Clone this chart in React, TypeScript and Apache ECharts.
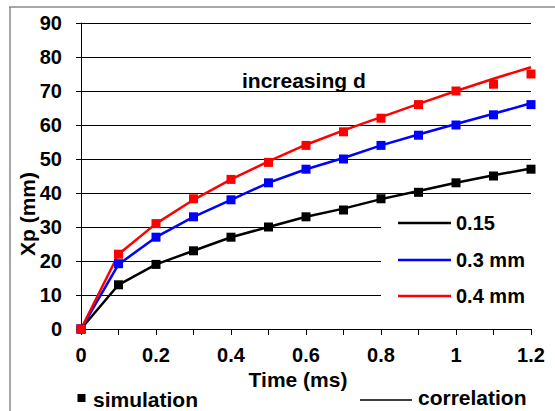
import React, { useEffect, useRef } from "react";
import * as echarts from "echarts";

const times = [0, 0.1, 0.2, 0.3, 0.4, 0.5, 0.6, 0.7, 0.8, 0.9, 1.0, 1.1, 1.2];
const seriesNames = ["0.15", "0.3 mm", "0.4 mm"];
const seriesColors = ["#000000", "#0000ff", "#ff0000"];

// simulation (square markers)
const simBlack = [0, 13, 19, 23, 27, 30, 33, 35, 38.3, 40.2, 43, 45, 47];
const simBlue = [0, 19.2, 27, 33, 38, 43, 47, 50, 54, 57, 60, 63, 66];
const simRed = [0, 22, 31, 38.3, 44, 49, 54, 58, 62, 66, 70, 72, 75];

// correlation (lines)
const corBlack = [0, 13, 19, 23, 27, 30, 33, 35.4, 38.2, 40.6, 43, 45.2, 47.2];
const corBlue = [0, 19, 27, 33, 38, 43, 47, 50.3, 54, 57.2, 60.3, 63.3, 66.4];
const corRed = [0, 22, 31, 38, 44, 49.3, 54.2, 58.4, 62.3, 66.2, 70, 73.6, 77];

const xTitle = "Time (ms)";
const yTitle = "Xp (mm)";
const annotation = "increasing d";
const simLabel = "simulation";
const corLabel = "correlation";

const FONT_FAMILY = '"Liberation Sans", Arial, sans-serif';

export default function App() {
  const ref = useRef<HTMLDivElement>(null);

  useEffect(() => {
    if (!ref.current) return;
    const chart = echarts.init(ref.current, undefined, { renderer: "svg" });

    const sims = [simBlack, simBlue, simRed];
    const cors = [corBlack, corBlue, corRed];

    const series: any[] = [];
    for (let i = 0; i < 3; i++) {
      series.push({
        name: seriesNames[i],
        type: "line",
        data: times.map((t, k) => [t, cors[i][k]]),
        symbol: "none",
        lineStyle: { color: seriesColors[i], width: 2.5 },
        itemStyle: { color: seriesColors[i] },
        z: 2,
      });
    }
    for (let i = 0; i < 3; i++) {
      series.push({
        name: seriesNames[i] + " sim",
        type: "scatter",
        data: times.map((t, k) => [t, sims[i][k]]),
        symbol: "rect",
        symbolSize: 9,
        itemStyle: { color: seriesColors[i], opacity: 1 },
        z: 3,
      });
    }

    const font = (s: number) => `bold ${s}px ${FONT_FAMILY}`;
    const legendRowsY = [223, 260, 296];

    const graphic: any[] = [
      {
        type: "line",
        shape: { x1: 9, y1: 7, x2: 555, y2: 7 },
        style: { stroke: "#8a8a8a", lineWidth: 1.5 },
        z: 100,
      },
      {
        type: "line",
        shape: { x1: 10, y1: 7, x2: 10, y2: 411 },
        style: { stroke: "#8a8a8a", lineWidth: 1.5 },
        z: 100,
      },
      {
        type: "rect",
        shape: { x: 381, y: 205, width: 152, height: 108 },
        style: { fill: "#ffffff" },
        z: 100,
      },
      {
        type: "text",
        x: 242,
        y: 80,
        style: { text: annotation, font: font(21), fill: "#000", textAlign: "left", textVerticalAlign: "middle" },
        z: 101,
      },
      {
        type: "text",
        x: 298,
        y: 379,
        style: { text: xTitle, font: font(21), fill: "#000", textAlign: "center", textVerticalAlign: "middle" },
        z: 101,
      },
      {
        type: "text",
        x: 27,
        y: 214,
        rotation: Math.PI / 2,
        style: { text: yTitle, font: font(21), fill: "#000", textAlign: "center", textVerticalAlign: "middle" },
        z: 101,
      },
      {
        type: "rect",
        shape: { x: 77.5, y: 394, width: 8, height: 8 },
        style: { fill: "#000" },
        z: 101,
      },
      {
        type: "text",
        x: 93,
        y: 399,
        style: { text: simLabel, font: font(21), fill: "#000", textAlign: "left", textVerticalAlign: "middle" },
        z: 101,
      },
      {
        type: "line",
        shape: { x1: 360, y1: 400, x2: 412, y2: 400 },
        style: { stroke: "#000", lineWidth: 1.5 },
        z: 101,
      },
      {
        type: "text",
        x: 418,
        y: 397,
        style: { text: corLabel, font: font(21), fill: "#000", textAlign: "left", textVerticalAlign: "middle" },
        z: 101,
      },
    ];
    for (let i = 0; i < 3; i++) {
      graphic.push({
        type: "line",
        shape: { x1: 398, y1: legendRowsY[i], x2: 451, y2: legendRowsY[i] },
        style: { stroke: seriesColors[i], lineWidth: 2.5 },
        z: 101,
      });
      graphic.push({
        type: "text",
        x: 456,
        y: legendRowsY[i],
        style: {
          text: seriesNames[i],
          font: font(20),
          fill: "#000",
          textAlign: "left",
          textVerticalAlign: "middle",
        },
        z: 101,
      });
    }

    chart.setOption({
      animation: false,
      backgroundColor: "#ffffff",
      textStyle: { fontFamily: FONT_FAMILY },
      grid: { left: 81, right: 24, top: 23, bottom: 82, containLabel: false },
      xAxis: {
        type: "value",
        min: 0,
        max: 1.2,
        interval: 0.2,
        axisLine: { show: true, onZero: false, lineStyle: { color: "#000", width: 1 } },
        axisTick: { show: true, inside: false, length: 6, lineStyle: { color: "#000", width: 1 } },
        minorTick: { show: true, splitNumber: 2, length: 6, lineStyle: { color: "#000", width: 1 } },
        splitLine: { show: false },
        axisLabel: {
          color: "#000",
          fontWeight: "bold",
          fontSize: 20,
          fontFamily: FONT_FAMILY,
          margin: 16,
        },
      },
      yAxis: {
        type: "value",
        min: 0,
        max: 90,
        interval: 10,
        axisLine: { show: true, lineStyle: { color: "#000", width: 1 } },
        axisTick: { show: true, inside: false, length: 5, lineStyle: { color: "#000", width: 1 } },
        splitLine: { show: true, lineStyle: { color: "#000", width: 1 } },
        axisLabel: {
          color: "#000",
          fontWeight: "bold",
          fontSize: 20,
          fontFamily: FONT_FAMILY,
          margin: 19,
        },
      },
      series,
      graphic,
    });

    return () => {
      chart.dispose();
    };
  }, []);

  return (
    <div
      ref={ref}
      style={{ position: "absolute", left: 0, top: 0, width: 555, height: 411, background: "#fff" }}
    />
  );
}
